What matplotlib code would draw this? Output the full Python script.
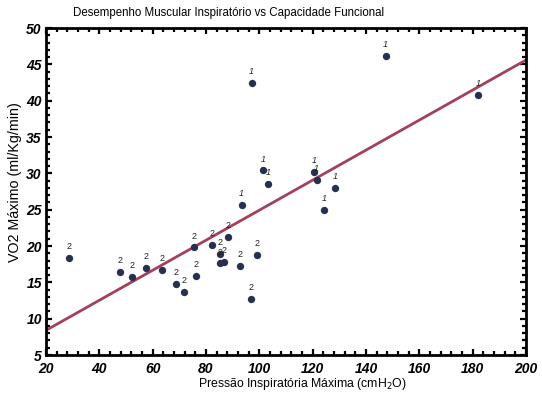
import matplotlib
matplotlib.use("Agg")
import matplotlib.pyplot as plt
from matplotlib.ticker import MultipleLocator

# Data
pim = [147.4, 97.1, 182.1, 101.5, 103.4, 93.4, 120.6, 121.5, 128.4, 124.4,
       28.7, 47.7, 52.2, 57.5, 63.6, 68.6, 71.7, 75.4, 76.2, 82.4,
       85.4, 85.4, 86.7, 88.4, 92.7, 96.8, 99.0]
vo2 = [46.2, 42.5, 40.8, 30.4, 28.5, 25.7, 30.2, 29.1, 28.0, 24.9,
       18.3, 16.4, 15.8, 17.0, 16.7, 14.8, 13.7, 19.8, 15.9, 20.1,
       18.9, 17.6, 17.8, 21.3, 17.3, 12.7, 18.8]
groups = ["1"] * 10 + ["2"] * 17
fit_x = [20, 200]
fit_y = [8.4, 45.6]

x_ticks = [20, 40, 60, 80, 100, 120, 140, 160, 180, 200]
y_ticks = [5, 10, 15, 20, 25, 30, 35, 40, 45, 50]

fig = plt.figure(figsize=(5.42, 3.98), dpi=100)
ax = fig.add_axes([0.0849, 0.108, 0.8856, 0.8216])

ax.plot(fit_x, fit_y, color="#a3405c", lw=2.0, zorder=2)
ax.scatter(pim, vo2, s=28, color="#27314f", zorder=3, linewidths=0)
for x, y, g in zip(pim, vo2, groups):
    ax.annotate(g, (x, y), xytext=(0, 5), textcoords="offset points",
                ha="center", va="bottom", fontsize=6.5,
                style="italic" if g == "1" else "normal",
                family="Liberation Sans", color="#222222", zorder=4)

ax.set_xlim(20, 200)
ax.set_ylim(5, 50)
ax.set_xticks(x_ticks)
ax.set_yticks(y_ticks)
ax.xaxis.set_minor_locator(MultipleLocator(4))
ax.yaxis.set_minor_locator(MultipleLocator(1))
ax.tick_params(which="both", direction="in", top=True, right=True, width=1.6, color="black")
ax.tick_params(which="major", length=4)
ax.tick_params(which="minor", length=3)
for lab in ax.get_xticklabels() + ax.get_yticklabels():
    lab.set_family("Liberation Sans")
    lab.set_fontweight("bold")
    lab.set_fontstyle("italic")
    lab.set_fontsize(10)
ax.tick_params(axis="x", which="major", pad=5)
ax.tick_params(axis="y", which="major", pad=3)
for sp in ax.spines.values():
    sp.set_linewidth(2)

fig.text(198 / 542, 1 - 384 / 398, "Pressão Inspiratória Máxima (cmH$_2$O)",
         family="Liberation Sans", fontsize=8.8, ha="left", va="center")
fig.text(15 / 542, 1 - 182 / 398, "VO2 Máximo (ml/Kg/min)", family="Liberation Sans",
         fontsize=10.3, rotation=90, ha="center", va="center")

fig.text(0.135, 0.968, "Desempenho Muscular Inspiratório vs Capacidade Funcional",
         family="Liberation Sans", fontsize=8.3, ha="left", va="center")

fig.savefig("out.png", dpi=100)
